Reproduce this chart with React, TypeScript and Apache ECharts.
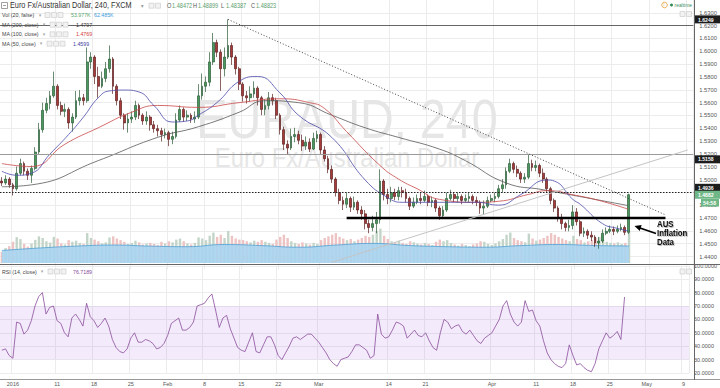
import React, { useEffect, useRef } from 'react';
import * as echarts from 'echarts';

const FONT = '"Liberation Sans", Arial, Helvetica, sans-serif';

// ---------- axis / time slots (each slot = half a trading day) ----------
const SLOT_COUNT = 187;
const dateLabels = ['2016', '11', '18', '25', 'Feb', '8', '15', '22', 'Mar', '14', '21', 'Apr', '11', '18', '25', 'May', '9'];
const dateSlots = [3, 15, 25, 35, 45, 55, 65, 75, 86, 105, 115, 133, 145, 155, 165, 175, 185];
const priceTicksMin = 1.43;
const priceTicksMax = 1.64;
const rsiTicksMin = 20;
const rsiTicksMax = 100;

// ---------- candles: [open, close, low, high] ----------
const candles = [
  [1.4989, 1.4974, 1.4951, 1.5019], [1.4974, 1.5004, 1.4959, 1.5034], [1.5004, 1.4959, 1.4936, 1.5019], [1.4959, 1.4929, 1.4876, 1.4974], [1.4929, 1.5050, 1.4914, 1.5102],
  [1.5050, 1.5125, 1.5034, 1.5163], [1.5125, 1.5065, 1.5034, 1.5140], [1.5065, 1.5034, 1.4997, 1.5087], [1.5034, 1.5087, 1.4974, 1.5110], [1.5087, 1.5215, 1.5072, 1.5253],
  [1.5215, 1.5389, 1.5200, 1.5442], [1.5389, 1.5540, 1.5366, 1.5600], [1.5540, 1.5593, 1.5517, 1.5638], [1.5593, 1.5653, 1.5547, 1.5691], [1.5653, 1.5728, 1.5638, 1.5842],
  [1.5728, 1.5578, 1.5547, 1.5744], [1.5578, 1.5532, 1.5502, 1.5608], [1.5532, 1.5547, 1.5487, 1.5593], [1.5547, 1.5442, 1.5397, 1.5563], [1.5442, 1.5487, 1.5374, 1.5517],
  [1.5487, 1.5615, 1.5472, 1.5691], [1.5615, 1.5638, 1.5578, 1.5698], [1.5638, 1.5615, 1.5578, 1.5668], [1.5615, 1.5917, 1.5600, 1.6030], [1.5917, 1.5955, 1.5864, 1.5993],
  [1.5955, 1.5804, 1.5744, 1.5970], [1.5804, 1.5728, 1.5638, 1.5879], [1.5728, 1.5789, 1.5713, 1.5842], [1.5789, 1.5864, 1.5759, 1.5917], [1.5864, 1.5940, 1.5834, 1.6045],
  [1.5940, 1.5728, 1.5668, 1.5955], [1.5728, 1.5615, 1.5578, 1.5744], [1.5615, 1.5502, 1.5472, 1.5638], [1.5502, 1.5442, 1.5389, 1.5517], [1.5442, 1.5472, 1.5366, 1.5517],
  [1.5472, 1.5487, 1.5442, 1.5532], [1.5487, 1.5578, 1.5464, 1.5615], [1.5578, 1.5502, 1.5472, 1.5593], [1.5502, 1.5457, 1.5427, 1.5517], [1.5457, 1.5487, 1.5427, 1.5532],
  [1.5487, 1.5427, 1.5381, 1.5502], [1.5427, 1.5397, 1.5366, 1.5457], [1.5397, 1.5381, 1.5336, 1.5427], [1.5381, 1.5351, 1.5298, 1.5404], [1.5351, 1.5366, 1.5321, 1.5397],
  [1.5366, 1.5314, 1.5261, 1.5381], [1.5314, 1.5336, 1.5276, 1.5374], [1.5336, 1.5464, 1.5321, 1.5517], [1.5464, 1.5547, 1.5449, 1.5578], [1.5547, 1.5487, 1.5449, 1.5563],
  [1.5487, 1.5502, 1.5457, 1.5540], [1.5502, 1.5472, 1.5442, 1.5517], [1.5472, 1.5487, 1.5442, 1.5532], [1.5487, 1.5653, 1.5472, 1.5744], [1.5653, 1.5728, 1.5623, 1.5827],
  [1.5728, 1.5759, 1.5683, 1.5804], [1.5759, 1.5917, 1.5728, 1.5993], [1.5917, 1.6068, 1.5894, 1.6143], [1.6068, 1.5993, 1.5955, 1.6091], [1.5993, 1.5864, 1.5691, 1.6015],
  [1.5864, 1.5955, 1.5804, 1.6030], [1.5955, 1.6045, 1.5940, 1.6249], [1.6045, 1.5955, 1.5894, 1.6068], [1.5955, 1.5864, 1.5819, 1.5970], [1.5864, 1.5744, 1.5698, 1.5879],
  [1.5744, 1.5653, 1.5608, 1.5759], [1.5653, 1.5638, 1.5593, 1.5691], [1.5638, 1.5668, 1.5608, 1.5728], [1.5668, 1.5713, 1.5638, 1.5766], [1.5713, 1.5638, 1.5578, 1.5728],
  [1.5638, 1.5547, 1.5502, 1.5653], [1.5547, 1.5578, 1.5502, 1.5623], [1.5578, 1.5638, 1.5547, 1.5683], [1.5638, 1.5615, 1.5578, 1.5668], [1.5615, 1.5502, 1.5472, 1.5638],
  [1.5502, 1.5389, 1.5351, 1.5517], [1.5389, 1.5276, 1.5231, 1.5412], [1.5276, 1.5246, 1.5200, 1.5306], [1.5246, 1.5336, 1.5231, 1.5397], [1.5336, 1.5351, 1.5291, 1.5404],
  [1.5351, 1.5306, 1.5276, 1.5381], [1.5306, 1.5261, 1.5223, 1.5351], [1.5261, 1.5291, 1.5231, 1.5336], [1.5291, 1.5238, 1.5215, 1.5321], [1.5238, 1.5321, 1.5231, 1.5366],
  [1.5321, 1.5351, 1.5291, 1.5381], [1.5351, 1.5231, 1.5200, 1.5366], [1.5231, 1.5163, 1.5140, 1.5261], [1.5163, 1.5080, 1.5050, 1.5185], [1.5080, 1.5004, 1.4974, 1.5110],
  [1.5004, 1.4899, 1.4868, 1.5019], [1.4899, 1.4838, 1.4808, 1.4929], [1.4838, 1.4808, 1.4763, 1.4868], [1.4808, 1.4853, 1.4778, 1.4899], [1.4853, 1.4785, 1.4748, 1.4868],
  [1.4785, 1.4823, 1.4763, 1.4868], [1.4823, 1.4763, 1.4733, 1.4838], [1.4763, 1.4733, 1.4687, 1.4793], [1.4733, 1.4657, 1.4612, 1.4763], [1.4657, 1.4627, 1.4582, 1.4687],
  [1.4627, 1.4657, 1.4597, 1.4718], [1.4657, 1.4687, 1.4582, 1.4748], [1.4687, 1.4989, 1.4657, 1.5080], [1.4989, 1.4884, 1.4838, 1.5004], [1.4884, 1.4853, 1.4808, 1.4929],
  [1.4853, 1.4899, 1.4823, 1.4944], [1.4899, 1.4868, 1.4838, 1.4929], [1.4868, 1.4914, 1.4838, 1.4944], [1.4914, 1.4899, 1.4861, 1.4944], [1.4899, 1.4853, 1.4823, 1.4929],
  [1.4853, 1.4793, 1.4763, 1.4868], [1.4793, 1.4823, 1.4778, 1.4861], [1.4823, 1.4853, 1.4808, 1.4884], [1.4853, 1.4838, 1.4808, 1.4899], [1.4838, 1.4868, 1.4823, 1.4914],
  [1.4868, 1.4823, 1.4793, 1.4884], [1.4823, 1.4838, 1.4785, 1.4868], [1.4838, 1.4778, 1.4748, 1.4853], [1.4778, 1.4718, 1.4687, 1.4793], [1.4718, 1.4763, 1.4702, 1.4793],
  [1.4763, 1.4853, 1.4748, 1.4899], [1.4853, 1.4884, 1.4838, 1.4921], [1.4884, 1.4853, 1.4823, 1.4899], [1.4853, 1.4868, 1.4823, 1.4899], [1.4868, 1.4838, 1.4808, 1.4884],
  [1.4838, 1.4853, 1.4823, 1.4884], [1.4853, 1.4868, 1.4823, 1.4899], [1.4868, 1.4838, 1.4808, 1.4884], [1.4838, 1.4823, 1.4793, 1.4868], [1.4823, 1.4778, 1.4733, 1.4838],
  [1.4778, 1.4793, 1.4725, 1.4838], [1.4793, 1.4838, 1.4778, 1.4868], [1.4838, 1.4853, 1.4823, 1.4884], [1.4853, 1.4868, 1.4823, 1.4899], [1.4868, 1.4929, 1.4853, 1.4959],
  [1.4929, 1.4959, 1.4899, 1.5004], [1.4959, 1.5065, 1.4929, 1.5095], [1.5065, 1.5125, 1.5050, 1.5163], [1.5125, 1.5080, 1.5050, 1.5140], [1.5080, 1.5050, 1.5019, 1.5110],
  [1.5050, 1.5004, 1.4974, 1.5065], [1.5004, 1.5019, 1.4974, 1.5050], [1.5019, 1.5125, 1.5004, 1.5200], [1.5125, 1.5095, 1.5065, 1.5155], [1.5095, 1.5110, 1.5065, 1.5148],
  [1.5110, 1.5050, 1.5019, 1.5125], [1.5050, 1.5004, 1.4974, 1.5087], [1.5004, 1.4929, 1.4899, 1.5019], [1.4929, 1.4838, 1.4808, 1.4944], [1.4838, 1.4778, 1.4748, 1.4853],
  [1.4778, 1.4702, 1.4672, 1.4793], [1.4702, 1.4657, 1.4612, 1.4733], [1.4657, 1.4627, 1.4597, 1.4672], [1.4627, 1.4642, 1.4597, 1.4687], [1.4642, 1.4748, 1.4612, 1.4801],
  [1.4748, 1.4672, 1.4642, 1.4778], [1.4672, 1.4582, 1.4559, 1.4687], [1.4582, 1.4597, 1.4552, 1.4627], [1.4597, 1.4567, 1.4537, 1.4612], [1.4567, 1.4552, 1.4521, 1.4597],
  [1.4552, 1.4506, 1.4476, 1.4567], [1.4506, 1.4521, 1.4461, 1.4552], [1.4521, 1.4582, 1.4506, 1.4612], [1.4582, 1.4597, 1.4567, 1.4627], [1.4597, 1.4612, 1.4582, 1.4642],
  [1.4612, 1.4597, 1.4567, 1.4635], [1.4597, 1.4612, 1.4582, 1.4642], [1.4612, 1.4627, 1.4597, 1.4657], [1.4627, 1.4589, 1.4567, 1.4642], [1.4589, 1.4882, 1.4575, 1.4890],
];

// ---------- volume (thousands) ----------
const volumes = [
  40, 55, 62, 78, 95, 88, 70, 60, 72, 85,
  98, 92, 80, 75, 96, 90, 72, 68, 84, 78,
  82, 74, 70, 110, 92, 86, 80, 72, 76, 94,
  98, 90, 84, 78, 70, 74, 82, 76, 68, 72,
  74, 70, 66, 78, 72, 80, 76, 86, 90, 80,
  72, 68, 74, 94, 90, 84, 100, 112, 96, 104,
  92, 118, 100, 90, 86, 84, 80, 76, 82, 78,
  84, 78, 74, 70, 86, 96, 104, 92, 80, 74,
  70, 76, 72, 68, 74, 70, 84, 92, 98, 104,
  110, 96, 90, 84, 88, 80, 86, 92, 100, 96,
  104, 118, 126, 100, 88, 80, 76, 82, 74, 70,
  80, 76, 72, 68, 74, 70, 66, 78, 86, 80,
  84, 74, 68, 64, 70, 66, 62, 68, 72, 80,
  78, 70, 66, 72, 80, 88, 104, 112, 92, 84,
  80, 76, 108, 90, 82, 86, 92, 100, 110, 104,
  96, 90, 84, 80, 100, 88, 84, 76, 80, 84,
  92, 96, 86, 78, 74, 72, 76, 70, 74, 120,
];
const volumeMA = [[0, 46], [10, 55], [20, 62], [30, 66], [40, 62], [50, 60], [60, 68], [70, 64], [80, 58], [90, 66], [100, 72], [110, 64], [120, 60], [130, 58], [140, 64], [150, 68], [160, 64], [169, 62.5]];

// ---------- moving averages [slot, price] ----------
const ma50 = [[0, 1.5065], [4, 1.5034], [8, 1.5050], [13, 1.5200], [18, 1.5351], [22, 1.5487], [26, 1.5638], [29, 1.5691], [33, 1.5698], [37, 1.5683], [41, 1.5578], [46, 1.5449], [50, 1.5457], [53, 1.5502], [58, 1.5600], [64, 1.5766], [69, 1.5804], [75, 1.5676], [80, 1.5502], [89, 1.5329], [98, 1.4997], [104, 1.4861], [108, 1.4823], [118, 1.4823], [128, 1.4823], [134, 1.4801], [140, 1.4884], [147, 1.4997], [149, 1.4989], [154, 1.4846], [156, 1.4808], [162, 1.4657], [166, 1.4620], [169, 1.4599]];
const ma100 = [[0, 1.5125], [8, 1.5102], [17, 1.5276], [26, 1.5404], [35, 1.5525], [42, 1.5578], [53, 1.5563], [64, 1.5600], [75, 1.5630], [83, 1.5600], [87, 1.5555], [93, 1.5374], [102, 1.5110], [107, 1.5004], [112, 1.4929], [118, 1.4846], [128, 1.4823], [134, 1.4831], [142, 1.4884], [147, 1.4914], [155, 1.4876], [161, 1.4838], [169, 1.4769]];
const ma200 = [[0, 1.4944], [8, 1.4959], [26, 1.5148], [42, 1.5329], [53, 1.5412], [64, 1.5525], [71, 1.5615], [80, 1.5600], [89, 1.5502], [98, 1.5404], [107, 1.5329], [118, 1.5238], [125, 1.5148], [136, 1.4974], [146, 1.4921], [160, 1.4846], [169, 1.4797]];

// ---------- RSI(14) ----------
const rsi = [
  37, 38, 33, 31, 58, 57, 49, 52, 59, 70,
  77, 80, 64, 69, 70, 59, 57, 50, 47, 61,
  64, 60, 55, 72, 62, 59, 54, 57, 61, 55,
  45, 39, 36, 35, 38, 46, 50, 43, 43, 45,
  44, 42, 38, 39, 42, 48, 57, 59, 61, 52,
  52, 54, 58, 70, 71, 72, 76, 79, 67, 54,
  61, 63, 53, 46, 39, 37, 36, 43, 50, 36,
  35, 41, 47, 47, 41, 33, 30, 35, 40, 46,
  47, 45, 47, 49, 49, 46, 43, 39, 35, 30,
  27, 25, 30, 31, 32, 36, 41, 41, 39, 37,
  31, 33, 64, 49, 46, 47, 52, 58, 57, 55,
  46, 49, 52, 48, 47, 50, 44, 39, 37, 50,
  60, 58, 53, 55, 56, 51, 49, 52, 48, 44,
  42, 46, 48, 50, 55, 60, 70, 74, 64, 58,
  55, 58, 74, 66, 67, 59, 55, 44, 35, 30,
  27, 25, 24, 27, 41, 33, 26, 27, 24, 22,
  21, 27, 38, 44, 50, 46, 48, 51, 45, 76.7189,
];

// ---------- drawn levels / trendlines ----------
const hLevels = [1.6249, 1.5158, 1.4936];
const supportLine = [[93, 1.4705], [179, 1.4705]];
const downTrend = [[61, 1.6249], [179, 1.4725]];
const upTrend = [[89, 1.4355], [185, 1.5231]];

// ---------- texts ----------
const titleText = 'Euro Fx/Australian Dollar, 240, FXCM';
const ohlcLabels = ['O', 'H', 'L', 'C'];
const ohlcValues = ['1.48472', '1.48899', '1.48387', '1.48823'];
const volLegend = ['53.977K', '62.485K'];
const maLegend = [
  { name: 'MA (200, close)', value: '1.4797', color: '#333333' },
  { name: 'MA (100, close)', value: '1.4769', color: '#d23c3c' },
  { name: 'MA (50, close)', value: '1.4599', color: '#3c3ca0' },
];
const rsiLegendValue = '76.7189';
const lastPrice = 1.4882;
const countdown = '54:58';
const annotation = ['AUS', 'Inflation', 'Data'];

const GRID_LEFT = -1;
const GRID_RIGHT = 26;

function T(x: number, y: number, text: string, size: number, fill: string, extra: any = {}) {
  const { z, scaleX, ...style } = extra;
  return {
    type: 'text', x, y, z: z ?? 100, scaleX: scaleX ?? 0.85,
    style: { text, fontSize: size, fontFamily: FONT, fill, verticalAlign: 'middle', align: 'left', ...style },
  };
}
function boxes(x: number, y: number, n: number) {
  const out: any[] = [];
  for (let i = 0; i < n; i++) {
    out.push({ type: 'rect', z: 100, shape: { x: x + i * 6.5, y: y - 2.5, width: 5, height: 5 }, style: { fill: '#f2f2f2', stroke: '#c8c8c8', lineWidth: 0.6 } });
  }
  return out;
}

export default function App() {
  const ref = useRef<HTMLDivElement>(null);
  useEffect(() => {
    if (!ref.current) return;
    const chart = echarts.init(ref.current, undefined, { renderer: 'svg' });
    const slots = Array.from({ length: SLOT_COUNT }, (_, i) => 's' + i);
    const labelMap: Record<string, string> = {};
    dateSlots.forEach((s, i) => { labelMap['s' + s] = dateLabels[i]; });
    const isLabelSlot = (idx: number) => labelMap['s' + idx] !== undefined;

    const vlineStyle = { color: '#ececec', width: 1 };
    const catAxis = (gi: number) => ({
      type: 'category', gridIndex: gi, data: slots, boundaryGap: true,
      axisLine: { show: false }, axisTick: { show: false },
      axisLabel: gi === 2 ? {
        show: true, interval: (i: number) => isLabelSlot(i), margin: 8, fontSize: 5.5, color: '#555', fontFamily: FONT,
        formatter: (v: string) => labelMap[v] ?? '',
      } : { show: false },
      splitLine: { show: true, interval: (i: number) => isLabelSlot(i), lineStyle: vlineStyle },
    });

    const lvl = (v: number, style: any) => ({ yAxis: v, lineStyle: style });
    const seg = (pts: number[][], style: any) => [
      { coord: pts[0], lineStyle: style }, { coord: pts[1], lineStyle: style },
    ];

    const option: any = {
      animation: false,
      backgroundColor: '#ffffff',
      grid: [
        { left: GRID_LEFT, right: GRID_RIGHT, top: -9, height: 278.4 },
        { left: GRID_LEFT, right: GRID_RIGHT, top: 222.2, height: 40.8 },
        { left: GRID_LEFT, right: GRID_RIGHT, top: 265.8, height: 107.2 },
      ],
      xAxis: [
        catAxis(0),
        { type: 'value', gridIndex: 1, min: -0.5, max: SLOT_COUNT - 0.5, show: false },
        catAxis(2),
      ],
      yAxis: [
        {
          type: 'value', gridIndex: 0, position: 'right', min: priceTicksMin, max: priceTicksMax, interval: 0.01,
          axisLine: { show: false }, axisTick: { show: false },
          axisLabel: { fontSize: 5.8, color: '#555', margin: 6, fontFamily: FONT, formatter: (v: number) => (v < 1.435 || v > 1.635 ? '' : v.toFixed(4)) },
          splitLine: { show: true, showMinLine: false, showMaxLine: false, lineStyle: { color: '#ececec', width: 1 } },
        },
        { type: 'value', gridIndex: 1, min: 0, max: 150, show: false },
        {
          type: 'value', gridIndex: 2, position: 'right', min: rsiTicksMin, max: rsiTicksMax, interval: 10,
          axisLine: { show: false }, axisTick: { show: false },
          axisLabel: { fontSize: 5.5, color: '#555', margin: 5, fontFamily: FONT, formatter: (v: number) => v.toFixed(4) },
          splitLine: { show: true, lineStyle: { color: '#ececec', width: 1 } },
        },
      ],
      series: [
        {
          type: 'bar', xAxisIndex: 1, yAxisIndex: 1, barWidth: 2.4, z: 1,
          data: volumes.map((v, i) => ({ value: [i, v], itemStyle: { color: candles[i][1] >= candles[i][0] ? '#c3d5c8' : '#edc3c3' } })),
        },
        {
          type: 'line', xAxisIndex: 1, yAxisIndex: 1, data: volumeMA, smooth: true, showSymbol: false, z: 2,
          lineStyle: { color: '#4f9fd6', width: 0.8 }, areaStyle: { color: '#a9d4ef', opacity: 0.9 },
        },
        {
          type: 'candlestick', xAxisIndex: 0, yAxisIndex: 0, data: candles, barWidth: 2.3, z: 3,
          itemStyle: { color: '#4a9a60', color0: '#a83a3a', borderColor: '#2c5b38', borderColor0: '#5a1e1e', borderWidth: 0.7 },
          markLine: {
            silent: true, symbol: ['none', 'none'], label: { show: false }, animation: false,
            data: [
              lvl(hLevels[0], { color: '#666', width: 1, type: 'solid' }),
              lvl(hLevels[1], { color: '#9a9a9a', width: 1, type: 'solid' }),
              lvl(hLevels[2], { color: '#222', width: 1, type: [1.5, 1.5] }),
              seg(supportLine, { color: '#000', width: 2.4, type: 'solid' }),
              seg(downTrend, { color: '#444', width: 1, type: [1, 2] }),
              seg(upTrend, { color: '#c4c4c4', width: 1, type: 'solid' }),
            ],
          },
        },
        { type: 'line', xAxisIndex: 0, yAxisIndex: 0, data: ma200, smooth: true, showSymbol: false, z: 4, lineStyle: { color: '#585858', width: 0.8 } },
        { type: 'line', xAxisIndex: 0, yAxisIndex: 0, data: ma100, smooth: true, showSymbol: false, z: 4, lineStyle: { color: '#c94848', width: 0.8 } },
        { type: 'line', xAxisIndex: 0, yAxisIndex: 0, data: ma50, smooth: true, showSymbol: false, z: 4, lineStyle: { color: '#4b4bab', width: 0.8 } },
        {
          type: 'line', xAxisIndex: 2, yAxisIndex: 2, data: rsi, showSymbol: false, z: 3,
          lineStyle: { color: '#8a4c9c', width: 0.8 },
          markArea: { silent: true, itemStyle: { color: 'rgba(175,120,225,0.15)' }, data: [[{ yAxis: 30 }, { yAxis: 70 }]] },
        },
      ],
    };
    chart.setOption(option);

    const yp = (v: number) => chart.convertToPixel({ yAxisIndex: 0 }, v) as number;
    const g: any[] = [];
    // watermark
    g.push(T(347, 119, 'EURAUD, 240', 55, '#e6e6e6', { z: 1, align: 'center' }));
    g.push(T(347, 157, 'Euro Fx/Australian Dollar', 28, '#e6e6e6', { z: 1, align: 'center' }));
    // pane borders
    g.push({ type: 'line', z: 90, shape: { x1: 0, y1: 264.5, x2: 720, y2: 264.5 }, style: { stroke: '#666', lineWidth: 1 } });
    g.push({ type: 'line', z: 90, shape: { x1: 0, y1: 379.5, x2: 720, y2: 379.5 }, style: { stroke: '#999', lineWidth: 1 } });
    g.push({ type: 'line', z: 90, shape: { x1: 694.5, y1: 0, x2: 694.5, y2: 380 }, style: { stroke: '#666', lineWidth: 1 } });
    // header
    g.push({ type: 'rect', z: 100, shape: { x: 1.5, y: 2.5, width: 6, height: 6 }, style: { fill: '#fff', stroke: '#777', lineWidth: 0.7 } });
    g.push({ type: 'line', z: 100, shape: { x1: 3, y1: 5.5, x2: 6, y2: 5.5 }, style: { stroke: '#777', lineWidth: 0.7 } });
    g.push(T(10, 5.7, titleText, 8.6, '#333'));
    g.push(T(141, 5.7, '▾', 6, '#999'));
    g.push(...boxes(149, 5.7, 2));
    const ohlcX = [167, 193, 221, 251];
    ohlcLabels.forEach((l, i) => {
      g.push(T(ohlcX[i], 5.7, l, 6.6, '#555'));
      g.push(T(ohlcX[i] + 5, 5.7, ohlcValues[i], 6.6, '#5b9e6d'));
    });
    // legends
    g.push(T(2, 15, 'Vol (20, false)', 6.2, '#444'));
    g.push(T(39, 15, '▾', 5, '#999'));
    g.push(...boxes(45, 15, 3));
    g.push(T(71, 15, volLegend[0], 6.2, '#5aa66a'));
    g.push(T(94, 15, volLegend[1], 6.2, '#3a9ad9'));
    const maY = [24.7, 34.3, 43.7];
    const maBox = [50, 50, 47];
    maLegend.forEach((m, i) => {
      g.push(T(2, maY[i], m.name, 6.2, '#444'));
      g.push(T(maBox[i] - 7, maY[i], '▾', 5, '#999'));
      g.push(...boxes(maBox[i], maY[i], 3));
      g.push(T(maBox[i] + 26, maY[i], m.value, 6.2, m.color));
    });
    g.push(T(2, 271.5, 'RSI (14, close)', 6.2, '#444'));
    g.push(T(41, 271.5, '▾', 5, '#999'));
    g.push(...boxes(48, 271.5, 3));
    g.push(T(73, 271.5, rsiLegendValue, 6.2, '#8b4a9c'));
    // realtime indicator
    g.push({ type: 'circle', z: 100, shape: { cx: 664.5, cy: 5, r: 2.8 }, style: { fill: '#fff', stroke: '#e69a2e', lineWidth: 0.8 } });
    g.push(T(663.6, 5.2, '!', 4.5, '#e69a2e'));
    g.push({ type: 'circle', z: 100, shape: { cx: 671.5, cy: 5, r: 1.5 }, style: { fill: '#2f8a58' } });
    g.push(T(674.5, 5, 'realtime', 5.8, '#3d8d63'));
    g.push(...boxes(680, 14, 2));
    g.push(...boxes(680, 271.5, 2));
    // right-axis price tags
    const tag = (v: number, bg: string, label: string, x = 695, w = 25) => {
      const y = yp(v);
      g.push({ type: 'rect', z: 110, shape: { x, y: y - 4, width: w, height: 8 }, style: { fill: bg } });
      g.push(T(x + 3, y, label, 6, '#fff', { z: 111, fontWeight: 'bold' }));
    };
    tag(hLevels[0], '#1d1d1d', hLevels[0].toFixed(4));
    tag(hLevels[1], '#1d1d1d', hLevels[1].toFixed(4));
    tag(hLevels[2], '#1d1d1d', hLevels[2].toFixed(4));
    tag(lastPrice, '#6fb786', lastPrice.toFixed(4));
    {
      const y = yp(lastPrice) + 8;
      g.push({ type: 'rect', z: 110, shape: { x: 701, y: y - 3.8, width: 18, height: 7.6 }, style: { fill: '#6fb786' } });
      g.push(T(703, y, countdown, 6, '#fff', { z: 111, fontWeight: 'bold' }));
    }
    // arrow and annotation
    g.push({ type: 'line', z: 100, shape: { x1: 656, y1: 233.5, x2: 640, y2: 228 }, style: { stroke: '#000', lineWidth: 1.8 } });
    g.push({ type: 'polygon', z: 100, shape: { points: [[634.5, 226], [641.6, 225], [639.8, 231]] }, style: { fill: '#000' } });
    const annY = [223.5, 232.8, 242];
    annotation.forEach((s, i) => {
      g.push(T(657, annY[i], s, 9.2, '#111', { fontWeight: 'bold', textShadowColor: 'rgba(0,0,0,0.35)', textShadowBlur: 1.5, textShadowOffsetX: 0.8, textShadowOffsetY: 0.8 }));
    });
    chart.setOption({ graphic: g });

    return () => chart.dispose();
  }, []);
  return <div ref={ref} style={{ width: 720, height: 388, position: 'absolute', left: 0, top: 0 }} />;
}
